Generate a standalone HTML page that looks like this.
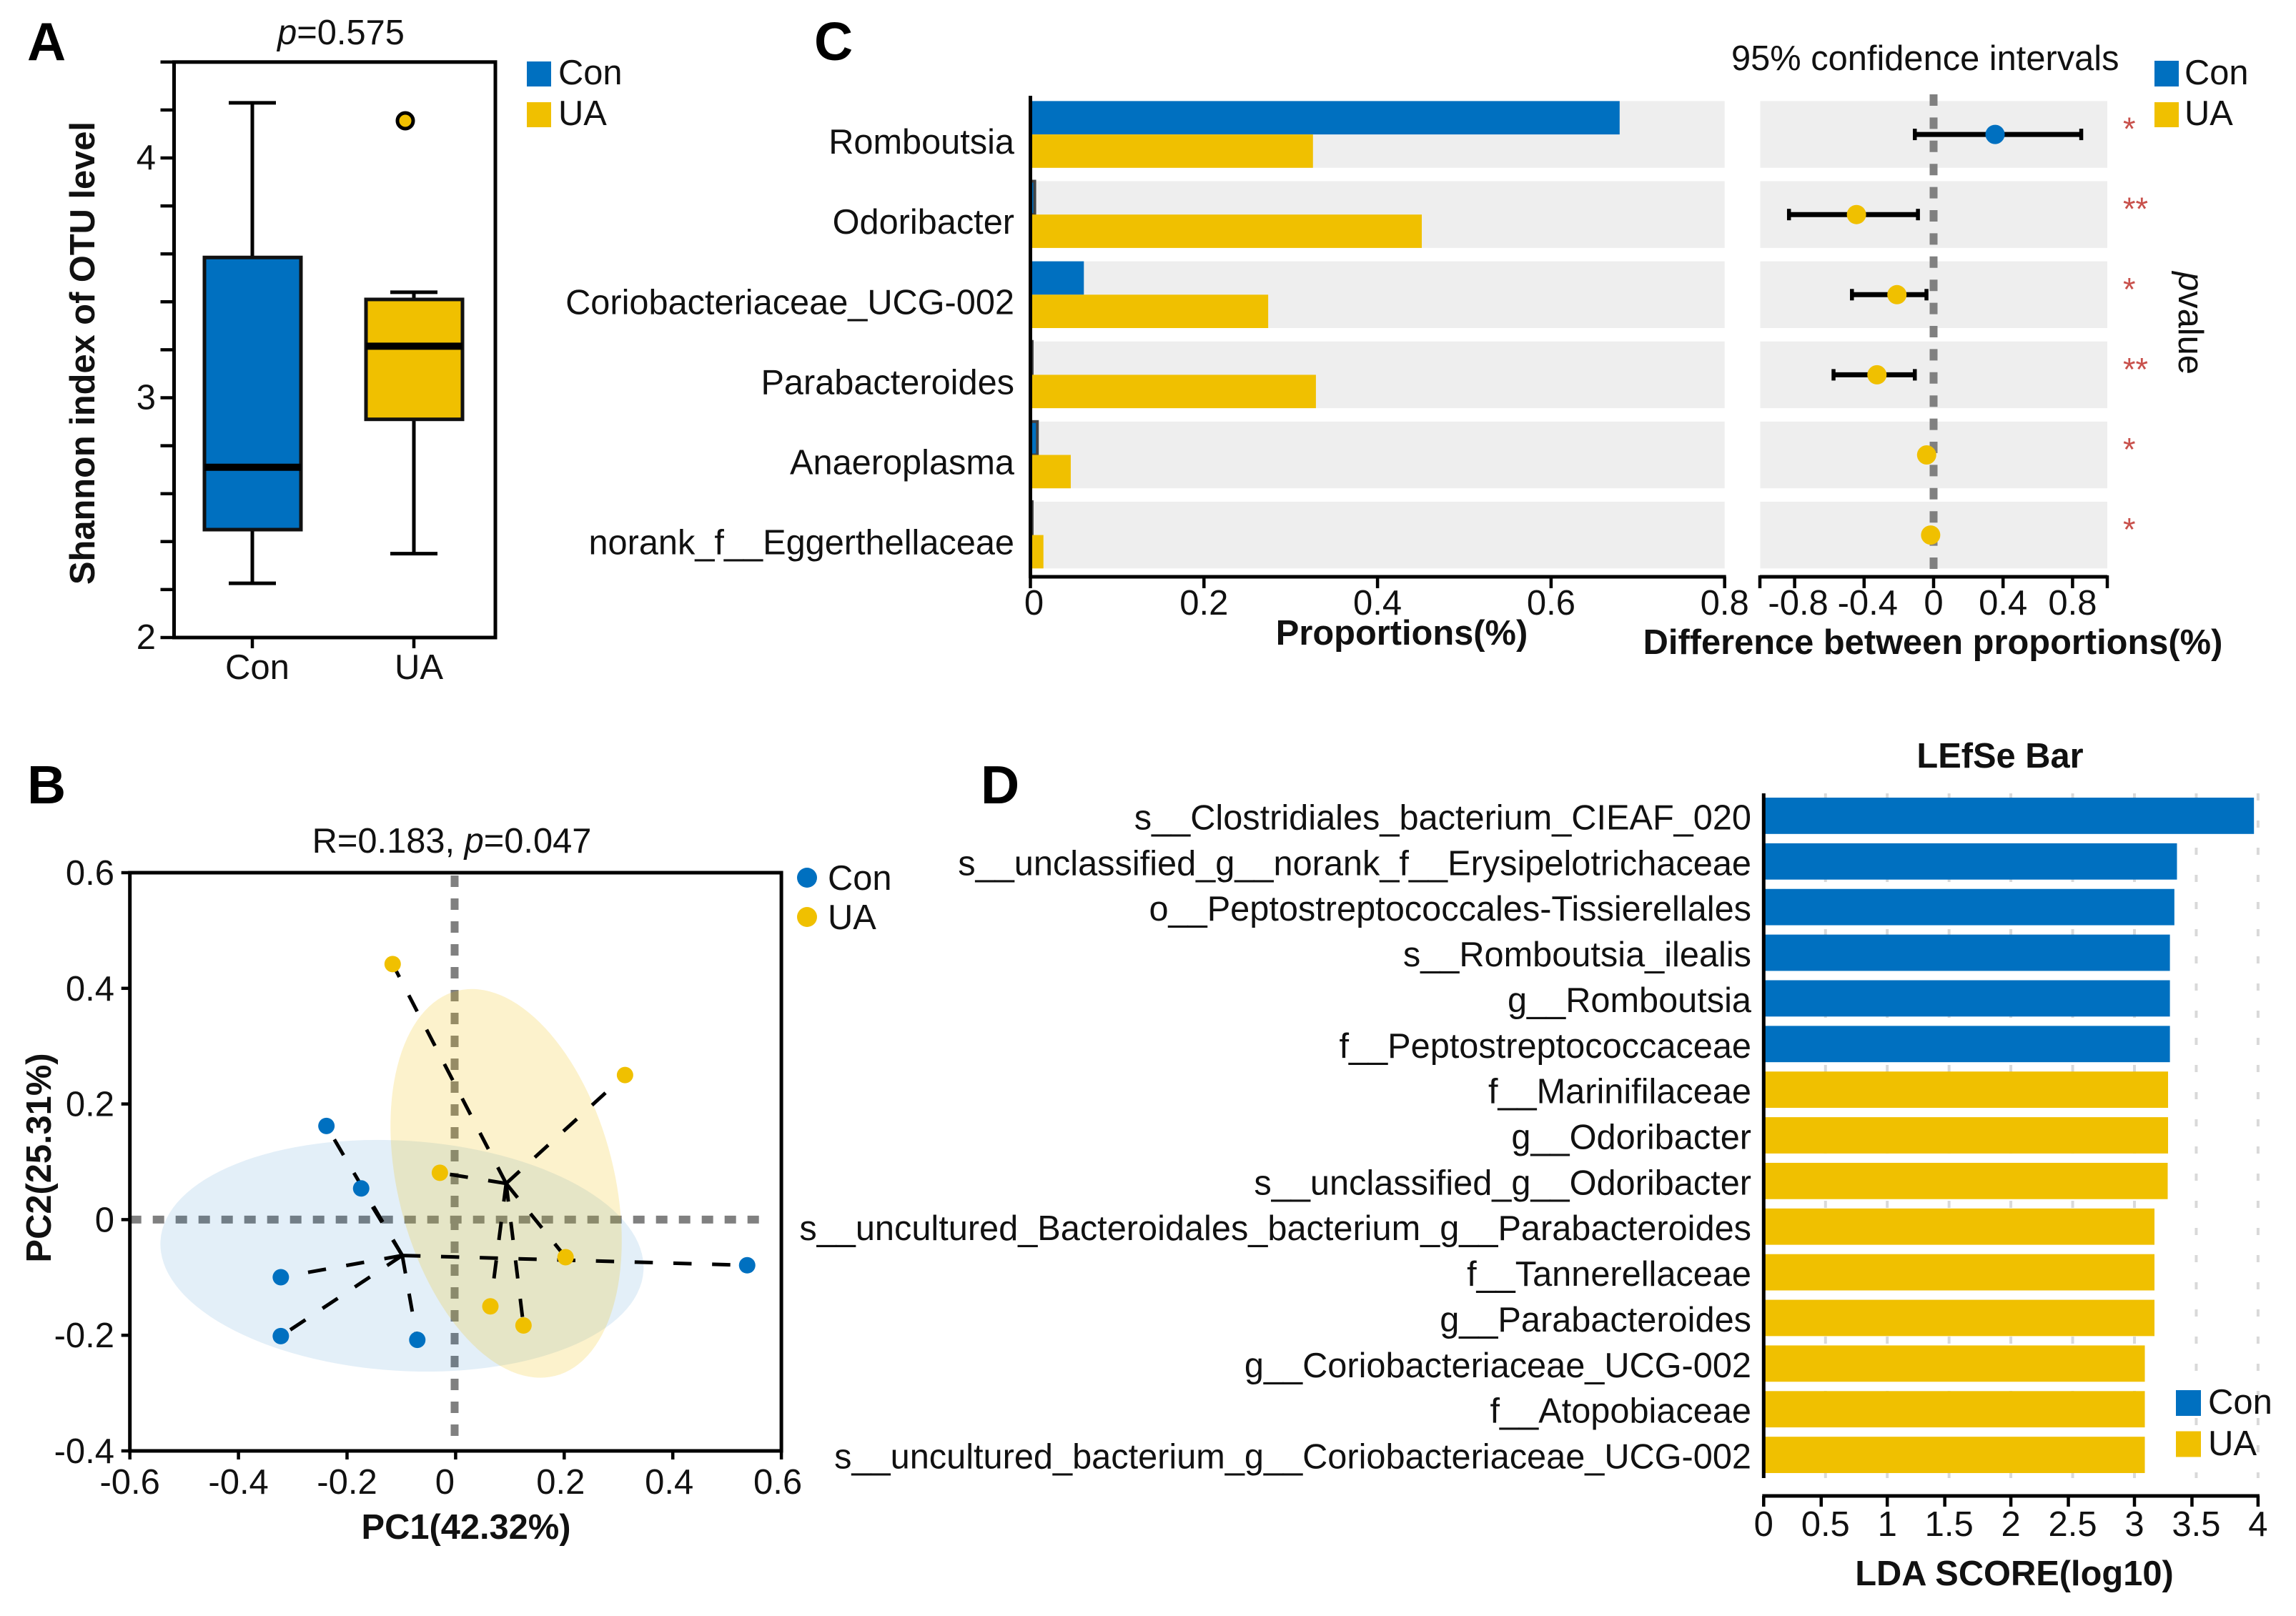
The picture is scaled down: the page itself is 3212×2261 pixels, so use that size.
<!DOCTYPE html>
<html lang="en">
<head>
<meta charset="utf-8">
<title>Microbiome comparison figure</title>
<style>
html,body{margin:0;padding:0;background:#fff}
svg{display:block}
text{font-family:"Liberation Sans",Arial,sans-serif;fill:#111}
.b{font-weight:700}
.letter{font-size:75px;font-weight:700;fill:#000}
.t49{font-size:48.8px}
</style>
</head>
<body>
<svg id="fig" xmlns="http://www.w3.org/2000/svg" width="3212" height="2261" viewBox="0 0 3212 2261">
  <rect width="3212" height="2261" fill="#fff"/>

  <g id="panelA">
    <text class="letter" x="38" y="84">A</text>
    <text class="t49" x="477" y="62" text-anchor="middle"><tspan font-style="italic">p</tspan>=0.575</text>
    <text class="t49 b" transform="translate(132,494) rotate(-90)" text-anchor="middle">Shannon index of OTU level</text>
    <rect x="737" y="86" width="34" height="35" fill="#0070c0"/>
    <rect x="737" y="143" width="34" height="35" fill="#f0c000"/>
    <text class="t49" x="781" y="118">Con</text>
    <text class="t49" x="781" y="175">UA</text>
  </g>

  <g id="panelB">
    <text class="letter" x="38" y="1124">B</text>
    <text class="t49" x="632" y="1193" text-anchor="middle">R=0.183, <tspan font-style="italic">p</tspan>=0.047</text>
    <text class="t49 b" x="652" y="2153" text-anchor="middle">PC1(42.32%)</text>
    <text class="t49 b" transform="translate(71,1620) rotate(-90)" text-anchor="middle">PC2(25.31%)</text>
    <circle cx="1129" cy="1228" r="14" fill="#0070c0"/>
    <circle cx="1129" cy="1283" r="14" fill="#f0c000"/>
    <text class="t49" x="1158" y="1245">Con</text>
    <text class="t49" x="1158" y="1300">UA</text>
  </g>

  <g id="panelC">
    <text class="letter" x="1139" y="84">C</text>
    <text class="t49" x="2422" y="98">95% confidence intervals</text>
    <text class="t49 b" x="1961" y="902" text-anchor="middle">Proportions(%)</text>
    <text class="t49 b" x="2704" y="915" text-anchor="middle">Difference between proportions(%)</text>
    <text class="t49" transform="translate(3048,452) rotate(90)" text-anchor="middle"><tspan font-style="italic">p</tspan>value</text>
    <rect x="3014" y="85" width="34" height="36" fill="#0070c0"/>
    <rect x="3014" y="143" width="34" height="35" fill="#f0c000"/>
    <text class="t49" x="3056" y="118">Con</text>
    <text class="t49" x="3056" y="175">UA</text>
  </g>

  <g id="panelD">
    <text class="letter" x="1372" y="1124">D</text>
    <text class="t49 b" x="2798" y="1074" text-anchor="middle">LEfSe Bar</text>
    <text class="t49 b" x="2818" y="2218" text-anchor="middle">LDA SCORE(log10)</text>
  </g>
</svg>

<script>
/* ---------- Panel A data ---------- */
const boxGroups = ['Con', 'UA'];
const boxColors = ['#0070c0', '#f0c000'];
const boxLow = [2.226, 2.35];
const boxQ1 = [2.45, 2.91];
const boxMedian = [2.71, 3.215];
const boxQ3 = [3.585, 3.41];
const boxHigh = [4.23, 3.44];
const boxOutlier = [null, 4.155];
const boxMajorTicks = [2, 3, 4];
const boxMinorTicks = [2.2, 2.4, 2.6, 2.8, 3.2, 3.4, 3.6, 3.8, 4.2];

/* ---------- Panel B data ---------- */
const pcoaConX = [-0.238, -0.174, -0.322, -0.322, -0.0706, 0.537];
const pcoaConY = [0.162, 0.054, -0.0996, -0.2015, -0.208, -0.079];
const pcoaUaX = [-0.116, 0.312, -0.029, 0.2025, 0.064, 0.125];
const pcoaUaY = [0.442, 0.25, 0.081, -0.065, -0.15, -0.183];
const pcoaXTicks = [-0.6, -0.4, -0.2, 0, 0.2, 0.4, 0.6];
const pcoaYTicks = [-0.4, -0.2, 0, 0.2, 0.4, 0.6];
const ellipseCenterX = [-0.0988, 0.093];
const ellipseCenterY = [-0.0625, 0.0627];
const ellipseRadiusX = [0.4457, 0.199];
const ellipseRadiusY = [0.199, 0.3436];
const ellipseTilt = [3.6, -14.3];

/* ---------- Panel C data ---------- */
const taxa = ['Romboutsia', 'Odoribacter', 'Coriobacteriaceae_UCG-002', 'Parabacteroides', 'Anaeroplasma', 'norank_f__Eggerthellaceae'];
const conProportion = [0.679, 0.005, 0.0616, 0.002, 0.008, 0.002];
const uaProportion = [0.3256, 0.451, 0.274, 0.329, 0.0465, 0.015];
const diffMean = [0.354, -0.444, -0.211, -0.326, -0.04, -0.017];
const diffLow = [-0.108, -0.8325, -0.47, -0.576, null, null];
const diffHigh = [0.85, -0.09, -0.041, -0.108, null, null];
const pStars = ['*', '**', '*', '**', '*', '*'];
const propTicks = [0, 0.2, 0.4, 0.6, 0.8];
const diffTicks = [-0.8, -0.4, 0, 0.4, 0.8];
const diffTickLabels = ['-0.8', '-0.4', '0', '0.4', '0.8'];

/* ---------- Panel D data ---------- */
const ldaTaxa = ['s__Clostridiales_bacterium_CIEAF_020', 's__unclassified_g__norank_f__Erysipelotrichaceae', 'o__Peptostreptococcales-Tissierellales', 's__Romboutsia_ilealis', 'g__Romboutsia', 'f__Peptostreptococcaceae', 'f__Marinifilaceae', 'g__Odoribacter', 's__unclassified_g__Odoribacter', 's__uncultured_Bacteroidales_bacterium_g__Parabacteroides', 'f__Tannerellaceae', 'g__Parabacteroides', 'g__Coriobacteriaceae_UCG-002', 'f__Atopobiaceae', 's__uncultured_bacterium_g__Coriobacteriaceae_UCG-002'];
const ldaScore = [3.967, 3.344, 3.323, 3.287, 3.287, 3.287, 3.272, 3.272, 3.269, 3.162, 3.162, 3.162, 3.084, 3.084, 3.084];
const ldaGroup = ['Con', 'Con', 'Con', 'Con', 'Con', 'Con', 'UA', 'UA', 'UA', 'UA', 'UA', 'UA', 'UA', 'UA', 'UA'];
const ldaTicks = [0, 0.5, 1, 1.5, 2, 2.5, 3, 3.5, 4];
const ldaGrid = [0.5, 1, 1.5, 2, 2.5, 3, 3.5, 4];
const ldaLegend = ['Con', 'UA'];

/* ---------- helpers ---------- */
const NS = 'http://www.w3.org/2000/svg';
const BLUE = '#0070c0', YELLOW = '#f0c000', GREY = '#808080', BAND = '#eeeeee';
const LABEL_SIZE = 48.7, TICK_SIZE = 49;
function mk(tag, attrs, parent, content) {
  const e = document.createElementNS(NS, tag);
  for (const k in attrs) e.setAttribute(k, attrs[k]);
  if (content !== undefined) e.textContent = content;
  parent.appendChild(e);
  return e;
}
function line(parent, x1, y1, x2, y2, w, color, dash) {
  const a = { x1: x1, y1: y1, x2: x2, y2: y2, stroke: color || '#000', 'stroke-width': w };
  if (dash) a['stroke-dasharray'] = dash;
  return mk('line', a, parent);
}

/* ---------- Panel A ---------- */
(function () {
  const root = document.getElementById('panelA');
  const yA = v => 892 - (v - 2) * 335.5;
  const xA = i => 353 + 226 * i;
  const L = 243.5, R = 693, T = yA(4.4), B = yA(2);
  const frame = mk('rect', { x: L, y: T, width: R - L, height: B - T, fill: 'none', stroke: '#000', 'stroke-width': 5 }, root);
  
  
  boxMajorTicks.concat(boxMinorTicks, [4.4]).forEach(v => {
    const t = line(root, L - 19, yA(v), L, yA(v), 4.5);
    
    
  });
  boxMajorTicks.forEach(v => {
    const t = mk('text', { x: 218, y: yA(v) + 16, 'text-anchor': 'end', 'font-size': TICK_SIZE }, root, String(v));
    
    
  });
  boxGroups.forEach((g, i) => {
    const cx = xA(i);
    const tick = line(root, cx, B, cx, B + 15, 4.5);
    
    
    const lab = mk('text', { x: cx + 7, y: 950, 'text-anchor': 'middle', 'font-size': TICK_SIZE }, root, g);
    
    
    const w = line(root, cx, yA(boxLow[i]), cx, yA(boxHigh[i]), 5);
    
    
    const c1 = line(root, cx - 33, yA(boxLow[i]), cx + 33, yA(boxLow[i]), 5);
    
    
    const c2 = line(root, cx - 33, yA(boxHigh[i]), cx + 33, yA(boxHigh[i]), 5);
    
    
    const box = mk('rect', { x: cx - 67, y: yA(boxQ3[i]), width: 135, height: yA(boxQ1[i]) - yA(boxQ3[i]), fill: boxColors[i], stroke: '#111', 'stroke-width': 5 }, root);
    
    
    const m = line(root, cx - 67, yA(boxMedian[i]), cx + 68, yA(boxMedian[i]), 10);
    
    
    if (boxOutlier[i] !== null) {
      const o = mk('circle', { cx: cx - 12, cy: yA(boxOutlier[i]), r: 11, fill: boxColors[i], stroke: '#000', 'stroke-width': 5 }, root);
      
      
    }
  });
})();

/* ---------- Panel B ---------- */
(function () {
  const root = document.getElementById('panelB');
  const xB = v => 637.4 + v * 759.5;
  const yB = v => 1706.4 - v * 809;
  const L = xB(-0.6), R = xB(0.6), T = yB(0.6), B = yB(-0.4);
  const h0 = line(root, L, yB(0), 1076, yB(0), 11, GREY, '16 16');
  
  
  const v0 = line(root, 636, T + 4, 636, 2015, 11, GREY, '16 16');
  
  
  const fills = [BLUE, YELLOW], ops = [0.11, 0.2], names = ['ellipse-con', 'ellipse-ua'];
  ellipseCenterX.forEach((cx, i) => {
    const px = xB(cx), py = yB(ellipseCenterY[i]);
    const e = mk('ellipse', { cx: px, cy: py, rx: ellipseRadiusX[i] * 759.5, ry: ellipseRadiusY[i] * 809, fill: fills[i], 'fill-opacity': ops[i], transform: 'rotate(' + ellipseTilt[i] + ' ' + px + ' ' + py + ')' }, root);
    
    
  });
  const mean = a => a.reduce((s, v) => s + v, 0) / a.length;
  [[pcoaConX, pcoaConY, BLUE, 'con'], [pcoaUaX, pcoaUaY, YELLOW, 'ua']].forEach(set => {
    const mx = mean(set[0]), my = mean(set[1]);
    set[0].forEach((x, i) => {
      const s = line(root, xB(mx), yB(my), xB(x), yB(set[1][i]), 5, '#000', '25.5 28.7');
      
      
    });
  });
  [[pcoaConX, pcoaConY, BLUE, 'con'], [pcoaUaX, pcoaUaY, YELLOW, 'ua']].forEach(set => {
    set[0].forEach((x, i) => {
      const p = mk('circle', { cx: xB(x), cy: yB(set[1][i]), r: 11.5, fill: set[2] }, root);
      
      
    });
  });
  const frame = mk('rect', { x: L, y: T, width: R - L, height: B - T, fill: 'none', stroke: '#000', 'stroke-width': 5 }, root);
  
  
  pcoaXTicks.forEach(v => {
    const t = line(root, xB(v), B, xB(v), B + 12, 4.5);
    
    
    const off = v === 0 ? -15 : (v > 0 ? -5 : 0);
    const lab = mk('text', { x: xB(v) + off, y: 2090, 'text-anchor': 'middle', 'font-size': TICK_SIZE }, root, String(v));
    
    
  });
  pcoaYTicks.forEach(v => {
    const t = line(root, L - 12, yB(v), L, yB(v), 4.5);
    
    
    const lab = mk('text', { x: 160, y: yB(v) + 17, 'text-anchor': 'end', 'font-size': TICK_SIZE }, root, String(v));
    
    
  });
})();

/* ---------- Panel C ---------- */
(function () {
  const root = document.getElementById('panelC');
  const xP = v => 1441.5 + v * 1214;
  const xD = v => 2705 + v * 243;
  const bandTop = i => 141.4 + i * 112.1;
  const bandH = 93.4;
  taxa.forEach((name, i) => {
    const top = bandTop(i), mid = top + bandH / 2;
    const b1 = mk('rect', { x: xP(0), y: top, width: xP(0.8) - xP(0), height: bandH, fill: BAND }, root);
    
    
    const b2 = mk('rect', { x: 2462.5, y: top, width: 485.5, height: bandH, fill: BAND }, root);
    
    
    const lab = mk('text', { x: 1419, y: mid + 27, 'text-anchor': 'end', 'font-size': LABEL_SIZE }, root, name);
    
    
    const thin = conProportion[i] < 0.01;
    const conAttrs = { x: xP(0), y: top, width: xP(conProportion[i]) - xP(0), height: bandH / 2, fill: BLUE };
    if (thin) { conAttrs.stroke = '#444'; conAttrs['stroke-width'] = 4; }
    const con = mk('rect', conAttrs, root);
    
    
    const ua = mk('rect', { x: xP(0), y: mid, width: xP(uaProportion[i]) - xP(0), height: bandH / 2, fill: YELLOW }, root);
    
    
    const st = mk('text', { x: 2970, y: mid + 8, 'font-size': 45, style: 'fill:#c8504b' }, root, pStars[i]);
    
    
  });
  const zero = line(root, xD(0), 132, xD(0), 800, 11, GREY, '16 16.4');
  
  
  taxa.forEach((name, i) => {
    const mid = bandTop(i) + bandH / 2;
    if (diffLow[i] !== null) {
      const ci = line(root, xD(diffLow[i]), mid, xD(diffHigh[i]), mid, 7);
      
      
      const c1 = line(root, xD(diffLow[i]), mid - 8, xD(diffLow[i]), mid + 8, 5.5);
      
      
      const c2 = line(root, xD(diffHigh[i]), mid - 8, xD(diffHigh[i]), mid + 8, 5.5);
      
      
    }
    const p = mk('circle', { cx: xD(diffMean[i]), cy: mid, r: 13.5, fill: diffMean[i] > 0 ? BLUE : YELLOW }, root);
    
    
  });
  const y0 = line(root, xP(0), 134, xP(0), 809, 5);
  
  
  const ax1 = line(root, xP(0) - 2, 807, xP(0.8) + 2, 807, 5);
  
  
  propTicks.forEach(v => {
    const t = line(root, xP(v), 807, xP(v), 823, 4.5);
    
    
    const lab = mk('text', { x: xP(v) + (v === 0 ? 5 : 0), y: 860, 'text-anchor': 'middle', 'font-size': TICK_SIZE }, root, String(v));
    
    
  });
  const ax2 = line(root, xD(-1), 807, xD(1), 807, 5);
  
  
  [-1, 1].forEach(v => {
    const t = line(root, xD(v), 805, xD(v), 823, 4.5);
    
    
  });
  diffTicks.forEach((v, i) => {
    const t = line(root, xD(v), 807, xD(v), 823, 4.5);
    
    
    const lab = mk('text', { x: xD(v) + (v < 0 ? 5 : 0), y: 860, 'text-anchor': 'middle', 'font-size': TICK_SIZE }, root, diffTickLabels[i]);
    
    
  });
})();

/* ---------- Panel D ---------- */
(function () {
  const root = document.getElementById('panelD');
  const xL = v => 2467.3 + v * 172.9;
  const yL = i => 1116 + i * 63.87;
  const barH = 50.8;
  ldaGrid.forEach(v => {
    const g = line(root, xL(v), 1110, xL(v), 2068, 4, '#d9d9d9', '10 28');
    
    
  });
  ldaTaxa.forEach((name, i) => {
    const bar = mk('rect', { x: xL(0), y: yL(i), width: xL(ldaScore[i]) - xL(0), height: barH, fill: ldaGroup[i] === 'Con' ? BLUE : YELLOW }, root);
    
    
    const lab = mk('text', { x: 2450, y: yL(i) + barH / 2 + 19, 'text-anchor': 'end', 'font-size': LABEL_SIZE }, root, name);
    
    
  });
  const y0 = line(root, xL(0), 1110, xL(0), 2068, 5);
  
  
  const ax = line(root, xL(0) - 2, 2093, xL(4) + 2, 2093, 5);
  
  
  ldaTicks.forEach(v => {
    const shift = Number.isInteger(v) ? 0 : -6;
    const t = line(root, xL(v) + shift, 2093, xL(v) + shift, 2108, 4.5);
    
    
    const lab = mk('text', { x: xL(v), y: 2149, 'text-anchor': 'middle', 'font-size': TICK_SIZE }, root, String(v));
    
    
  });
  ldaLegend.forEach((g, i) => {
    const s = mk('rect', { x: 3044, y: 1945 + i * 57.5, width: 35, height: 36, fill: i === 0 ? BLUE : YELLOW }, root);
    
    
    const t = mk('text', { x: 3089, y: 1978 + i * 58, 'font-size': TICK_SIZE }, root, g);
    
    
  });
})();
</script>
</body>
</html>
